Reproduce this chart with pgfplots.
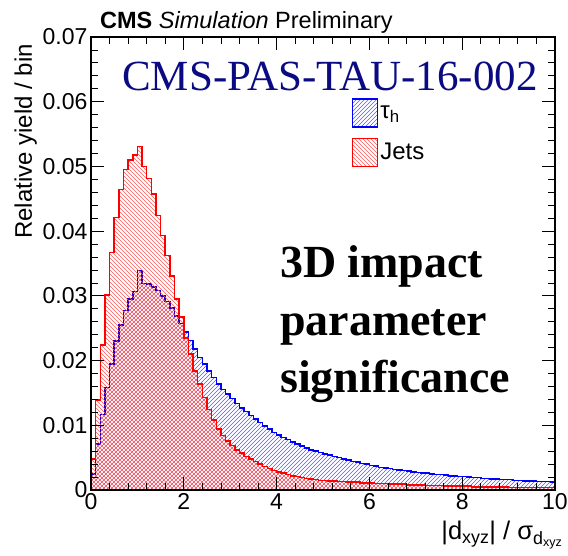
\documentclass[border=0pt]{standalone}
\usepackage{fontspec}
\setmainfont{Liberation Sans}
\newfontfamily\timesfont{Liberation Serif}
\usepackage{pgfplots}
\pgfplotsset{compat=1.18}
\usepackage{pgfplotstable}
\usetikzlibrary{patterns.meta}
\definecolor{navy}{RGB}{10,10,130}

\pgfplotstableread{
x red blue
0.0 0.0048 0.0025
0.1 0.0139 0.0071
0.2 0.0224 0.0117
0.3 0.0301 0.0158
0.4 0.0367 0.0195
0.5 0.0421 0.0230
0.6 0.0464 0.0255
0.7 0.0495 0.0277
0.8 0.0510 0.0295
0.9 0.0518 0.0307
1.0 0.0531 0.0339
1.1 0.0500 0.0319
1.2 0.0481 0.0318
1.3 0.0457 0.0314
1.4 0.0424 0.0308
1.5 0.0393 0.0300
1.6 0.0362 0.0291
1.7 0.0331 0.0281
1.8 0.0295 0.0269
1.9 0.0267 0.0257
2.0 0.0235 0.0244
2.1 0.0210 0.0231
2.2 0.0184 0.0218
2.3 0.0164 0.0205
2.4 0.0143 0.0195
2.5 0.0124 0.0184
2.6 0.0108 0.0174
2.7 0.0094 0.0164
2.8 0.0084 0.0155
2.9 0.0076 0.0148
3.0 0.0069 0.0141
3.1 0.0062 0.0134
3.2 0.0057 0.0127
3.3 0.0052 0.0121
3.4 0.0048 0.0115
3.5 0.0044 0.0110
3.6 0.0040 0.0104
3.7 0.0036 0.0099
3.8 0.0033 0.0094
3.9 0.0030 0.0089
4.0 0.0028 0.0085
4.1 0.0026 0.0081
4.2 0.0024 0.0078
4.3 0.0022 0.0074
4.4 0.0021 0.0071
4.5 0.0019 0.0068
4.6 0.0018 0.0065
4.7 0.0017 0.0062
4.8 0.0016 0.0060
4.9 0.0015 0.0058
5.0 0.0015 0.0056
5.1 0.0014 0.0054
5.2 0.0014 0.0052
5.3 0.0013 0.0050
5.4 0.0013 0.0048
5.5 0.0012 0.0046
5.6 0.0012 0.0044
5.7 0.0012 0.0043
5.8 0.0011 0.0041
5.9 0.0011 0.0040
6.0 0.0011 0.0038
6.1 0.0010 0.0037
6.2 0.0010 0.0035
6.3 0.0010 0.0034
6.4 0.0009 0.0033
6.5 0.0009 0.0032
6.6 0.0009 0.0031
6.7 0.0009 0.0030
6.8 0.0008 0.0029
6.9 0.0008 0.0028
7.0 0.0008 0.0027
7.1 0.0008 0.0026
7.2 0.0007 0.0026
7.3 0.0007 0.0025
7.4 0.0007 0.0024
7.5 0.0007 0.0024
7.6 0.0006 0.0023
7.7 0.0006 0.0022
7.8 0.0006 0.0022
7.9 0.0006 0.0021
8.0 0.0006 0.0021
8.1 0.0006 0.0020
8.2 0.0005 0.0019
8.3 0.0005 0.0019
8.4 0.0005 0.0018
8.5 0.0005 0.0018
8.6 0.0005 0.0017
8.7 0.0005 0.0017
8.8 0.0005 0.0016
8.9 0.0005 0.0016
9.0 0.0004 0.0016
9.1 0.0004 0.0015
9.2 0.0004 0.0015
9.3 0.0004 0.0014
9.4 0.0004 0.0014
9.5 0.0004 0.0014
9.6 0.0004 0.0013
9.7 0.0004 0.0013
9.8 0.0004 0.0013
9.9 0.0004 0.0012
10.0 0.0004 0.0012
}\histdata

\begin{document}
\begin{tikzpicture}
\useasboundingbox (-91pt,-66pt) rectangle (477pt,490pt);
\begin{axis}[
  at={(0pt,0pt)}, anchor=south west,
  scale only axis, width=464pt, height=453pt,
  xmin=0, xmax=10, ymin=0, ymax=0.07,
  clip=false,
  xtick={0,2,4,6,8,10},
  ytick={0,0.01,0.02,0.03,0.04,0.05,0.06,0.07},
  yticklabels={0,0.01,0.02,0.03,0.04,0.05,0.06,0.07},
  minor x tick num=4, minor y tick num=4,
  scaled y ticks=false,
  tick align=inside,
  major tick length=13pt, minor tick length=7pt,
  every tick/.style={black, line width=0.8pt},
  axis line style={line width=1.3pt},
  tick label style={font=\fontsize{23}{26}\selectfont},
  /pgf/number format/assume math mode=true,
  axis on top,
  xlabel={|d\textsubscript{xyz}| / σ\textsubscript{d\textsubscript{xyz}}},
  xlabel style={at={(rel axis cs:1.0172,-0.0684)}, anchor=north east, inner sep=0pt, font=\fontsize{25.5}{29}\selectfont},
  ylabel={Relative yield / bin},
  ylabel style={at={(rel axis cs:-0.1164,0.9846)}, anchor=south east, inner sep=0pt, font=\fontsize{24}{28}\selectfont},
  legend image code/.code={\draw[#1, line width=1.2pt] (0pt,-14pt) rectangle (25pt,14pt);},
  legend style={at={(rel axis cs:0.5625,0.865)}, anchor=north west, draw=none, fill=none, inner sep=0pt, row sep=10pt, font=\fontsize{24}{28}\selectfont, legend cell align=left},
]
\addplot[const plot mark left, draw=blue, line width=1.5pt,
  pattern={Lines[angle=45,distance=2.8284pt,line width=0.45pt]}, pattern color=blue!65]
  table[x=x,y=blue]{\histdata} \closedcycle;
\addlegendentry{τ\textsubscript{h}}
\addplot[const plot mark left, draw=red, line width=1.5pt,
  pattern={Lines[angle=-45,distance=2.8284pt,line width=0.45pt]}, pattern color=red!65]
  table[x=x,y=red]{\histdata} \closedcycle;
\addlegendentry{Jets}

\node[anchor=base west, inner sep=0pt, font=\fontsize{23.5}{26}\selectfont] at (rel axis cs:0.0194,1.0177) {\textbf{CMS} \textit{Simulation} Preliminary};
\node[anchor=base, inner sep=0pt, text=navy, font=\timesfont\fontsize{43}{50}\selectfont] at (rel axis cs:0.515,0.882) {CMS-PAS-TAU-16-002};
\node[anchor=base west, inner sep=0pt, font=\timesfont\bfseries\fontsize{46}{50}\selectfont] at (rel axis cs:0.4073,0.468) {3D impact};
\node[anchor=base west, inner sep=0pt, font=\timesfont\bfseries\fontsize{46}{50}\selectfont] at (rel axis cs:0.4073,0.342) {parameter};
\node[anchor=base west, inner sep=0pt, font=\timesfont\bfseries\fontsize{46}{50}\selectfont] at (rel axis cs:0.4073,0.2163) {significance};
\end{axis}
\end{tikzpicture}
\end{document}
